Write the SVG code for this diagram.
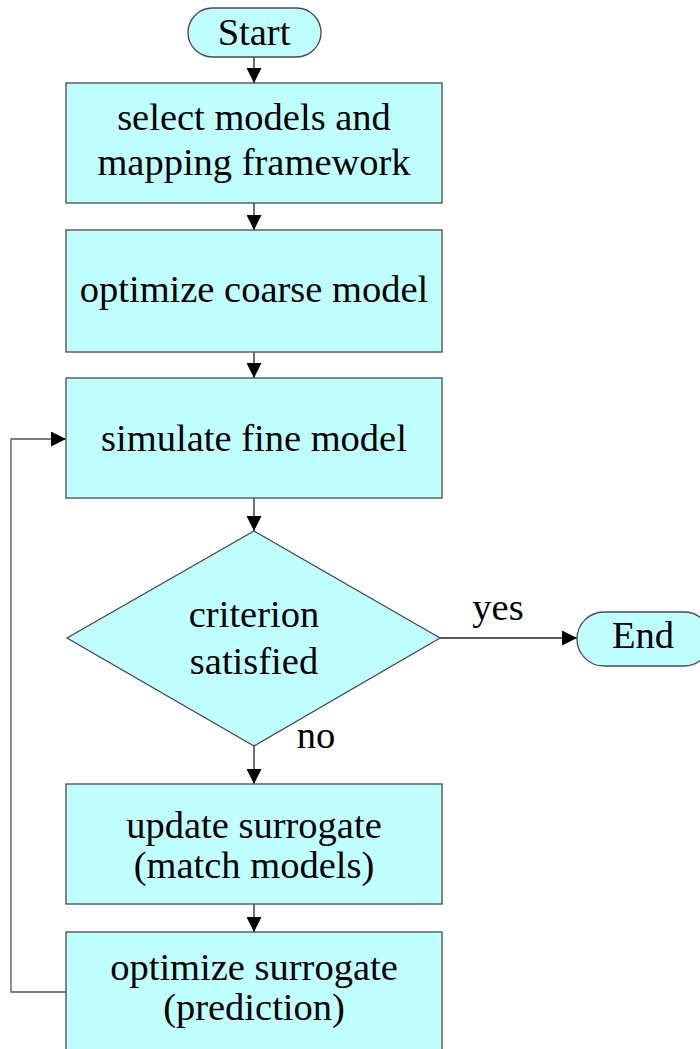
<svg xmlns="http://www.w3.org/2000/svg" width="700" height="1049" viewBox="0 0 700 1049">
  <style>
    .shape { fill: #bfffff; stroke: #4a4a4a; stroke-width: 1.3; }
    .label { font-family: "Liberation Serif", "Times New Roman", serif; font-size: 38.5px; fill: #000; text-anchor: middle; }
    .edge { fill: none; stroke: #222; stroke-width: 1.3; }
    .loop { fill: none; stroke: #555; stroke-width: 1.3; }
  </style>
  <defs>
    <marker id="arrow" markerWidth="15" markerHeight="15" refX="15" refY="7.5" orient="auto" markerUnits="userSpaceOnUse">
      <path d="M0,0 L15,7.5 L0,15 Z" fill="#000"/>
    </marker>
  </defs>
  <rect width="700" height="1049" fill="#fff"/>

  <g id="connectors">
    <line class="edge" x1="254" y1="57" x2="254" y2="83" marker-end="url(#arrow)"/>
    <line class="edge" x1="254" y1="203" x2="254" y2="230" marker-end="url(#arrow)"/>
    <line class="edge" x1="254" y1="352" x2="254" y2="378" marker-end="url(#arrow)"/>
    <line class="edge" x1="254" y1="498" x2="254" y2="531" marker-end="url(#arrow)"/>
    <line class="edge" x1="254" y1="746" x2="254" y2="784" marker-end="url(#arrow)"/>
    <line class="edge" x1="254" y1="904" x2="254" y2="932" marker-end="url(#arrow)"/>
    <line class="edge" x1="440" y1="638" x2="577" y2="638" marker-end="url(#arrow)"/>
    <polyline class="loop" points="66,992 11,992 11,439 66,439" marker-end="url(#arrow)"/>
    <text class="label" x="498" y="620">yes</text>
    <text class="label" x="316" y="748">no</text>
  </g>

  <g id="start">
    <rect class="shape" x="188" y="8" width="133" height="49" rx="24.5"/>
    <text class="label" x="254" y="45">Start</text>
  </g>

  <g id="select-models">
    <rect class="shape" x="66" y="83" width="376" height="120"/>
    <text class="label" x="254" y="130">select models and</text>
    <text class="label" x="254" y="175">mapping framework</text>
  </g>

  <g id="optimize-coarse">
    <rect class="shape" x="66" y="230" width="376" height="122"/>
    <text class="label" x="254" y="302">optimize coarse model</text>
  </g>

  <g id="simulate-fine">
    <rect class="shape" x="66" y="378" width="376" height="120"/>
    <text class="label" x="254" y="451">simulate fine model</text>
  </g>

  <g id="criterion">
    <polygon class="shape" points="254,531 440,638 254,746 67,638"/>
    <text class="label" x="254" y="627">criterion</text>
    <text class="label" x="254" y="674">satisfied</text>
  </g>

  <g id="end">
    <rect class="shape" x="577" y="612" width="134" height="54" rx="27"/>
    <text class="label" x="643" y="648">End</text>
  </g>

  <g id="update-surrogate">
    <rect class="shape" x="66" y="784" width="376" height="120"/>
    <text class="label" x="254" y="838">update surrogate</text>
    <text class="label" x="254" y="878">(match models)</text>
  </g>

  <g id="optimize-surrogate">
    <rect class="shape" x="66" y="932" width="376" height="130"/>
    <text class="label" x="254" y="980">optimize surrogate</text>
    <text class="label" x="254" y="1020">(prediction)</text>
  </g>
</svg>
